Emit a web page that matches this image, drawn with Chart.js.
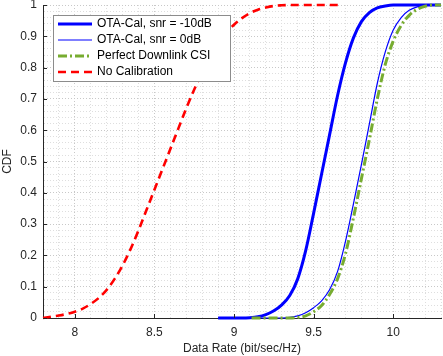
<!DOCTYPE html>
<html>
<head>
<meta charset="utf-8">
<script src="https://cdn.jsdelivr.net/npm/chart.js@4"></script>
<style>
  html, body { margin: 0; padding: 0; background: #fff; }
  #wrap { width: 443px; height: 356px; }
</style>
</head>
<body>
<div id="wrap"><canvas id="cdf"></canvas></div>
<script>
// values
var seriesNames = ["OTA-Cal, snr = -10dB", "OTA-Cal, snr = 0dB", "Perfect Downlink CSI", "No Calibration"];

var rateSnrM10 = [8.9, 9.05, 9.1, 9.15, 9.2, 9.25, 9.3, 9.35, 9.4, 9.45, 9.5, 9.55, 9.6, 9.65, 9.7, 9.75, 9.8, 9.85, 9.9, 9.95, 10.0, 10.3];
var cdfSnrM10  = [0, 0, 0.001, 0.004, 0.011, 0.023, 0.042, 0.072, 0.125, 0.215, 0.335, 0.46, 0.585, 0.71, 0.815, 0.895, 0.947, 0.976, 0.991, 0.997, 1, 1];

var rateSnr0 = [8.9, 9.3, 9.35, 9.4, 9.45, 9.5, 9.55, 9.6, 9.65, 9.7, 9.75, 9.8, 9.85, 9.9, 9.95, 10.0, 10.05, 10.1, 10.15, 10.2, 10.25, 10.3];
var cdfSnr0  = [0, 0, 0.002, 0.007, 0.017, 0.033, 0.055, 0.09, 0.148, 0.245, 0.365, 0.49, 0.62, 0.75, 0.85, 0.92, 0.96, 0.983, 0.994, 0.999, 1, 1];

var ratePerfect = [9.11, 9.35, 9.4, 9.45, 9.5, 9.55, 9.6, 9.65, 9.7, 9.75, 9.8, 9.85, 9.9, 9.95, 10.0, 10.05, 10.1, 10.15, 10.2, 10.25, 10.3];
var cdfPerfect  = [0, 0, 0.002, 0.007, 0.02, 0.04, 0.075, 0.125, 0.205, 0.32, 0.445, 0.57, 0.7, 0.81, 0.885, 0.935, 0.967, 0.986, 0.996, 1, 1];

var rateNoCal = [7.8, 7.85, 7.9, 7.95, 8.0, 8.05, 8.1, 8.15, 8.2, 8.25, 8.3, 8.35, 8.4, 8.45, 8.5, 8.55, 8.6, 8.65, 8.7, 8.75, 8.8, 8.85, 8.9, 8.95, 9.0, 9.05, 9.1, 9.15, 9.2, 9.25, 9.3, 9.35, 9.66];
var cdfNoCal  = [0, 0.004, 0.008, 0.013, 0.02, 0.03, 0.045, 0.064, 0.09, 0.125, 0.168, 0.22, 0.28, 0.345, 0.41, 0.475, 0.54, 0.605, 0.67, 0.73, 0.785, 0.835, 0.875, 0.91, 0.937, 0.958, 0.974, 0.985, 0.992, 0.997, 0.999, 1, 1];

var xMajor = [8, 8.5, 9, 9.5, 10];
var yMajor = [0, 0.1, 0.2, 0.3, 0.4, 0.5, 0.6, 0.7, 0.8, 0.9, 1];

function pts(xs, ys) {
    return xs.map(function (x, i) { return { x: x, y: ys[i] }; });
}
function isMajor(v, step) {
    var r = v / step;
    return Math.abs(r - Math.round(r)) < 1e-6;
}

var FONT = "'Liberation Sans', Arial, sans-serif";
var TXT = "#262626";

// legend box drawn inside the axes, like matlab's "northwest"
var insideLegend = {
    id: "insideLegend",
    afterDatasetsDraw: function (chart) {
        var ctx = chart.ctx, area = chart.chartArea;
        var x0 = area.left + 10, y0 = area.top + 10;
        var w = 177, rowH = 16, h = rowH * 4 + 2;
        ctx.save();
        ctx.fillStyle = "#fff";
        ctx.fillRect(x0, y0, w, h);
        ctx.strokeStyle = "#8c8c8c";
        ctx.lineWidth = 1;
        ctx.strokeRect(x0 + 0.5, y0 + 0.5, w, h);
        ctx.font = "12px " + FONT;
        ctx.textBaseline = "middle";
        chart.data.datasets.forEach(function (ds, i) {
            var yy = y0 + 9 + i * rowH;
            ctx.beginPath();
            ctx.strokeStyle = ds.borderColor;
            ctx.lineWidth = ds.borderWidth;
            ctx.setLineDash(ds.borderDash || []);
            ctx.moveTo(x0 + 5, yy);
            ctx.lineTo(x0 + 39, yy);
            ctx.stroke();
            ctx.setLineDash([]);
            ctx.fillStyle = "#000";
            ctx.fillText(ds.label, x0 + 44, yy);
        });
        ctx.restore();
    }
};

// matlab style inward tick marks
var inwardTicks = {
    id: "inwardTicks",
    afterDraw: function (chart) {
        var ctx = chart.ctx, area = chart.chartArea;
        var xs = chart.scales.x, ys = chart.scales.y;
        ctx.save();
        ctx.strokeStyle = TXT;
        ctx.lineWidth = 1;
        ctx.beginPath();
        xMajor.forEach(function (v) {
            var px = Math.round(xs.getPixelForValue(v)) + 0.5;
            ctx.moveTo(px, area.bottom);
            ctx.lineTo(px, area.bottom - 4);
        });
        yMajor.forEach(function (v) {
            var py = Math.round(ys.getPixelForValue(v)) + 0.5;
            ctx.moveTo(area.left, py);
            ctx.lineTo(area.left + 4, py);
        });
        ctx.stroke();
        ctx.restore();
    }
};

document.addEventListener("DOMContentLoaded", function () {
    var ctx = document.getElementById("cdf").getContext("2d");

    var data = {
        datasets: [
            {
                label: seriesNames[0],
                data: pts(rateSnrM10, cdfSnrM10),
                borderColor: "#0000ff",
                borderWidth: 3,
                order: 4
            },
            {
                label: seriesNames[1],
                data: pts(rateSnr0, cdfSnr0),
                borderColor: "#0000ff",
                borderWidth: 1.2,
                order: 3
            },
            {
                label: seriesNames[2],
                data: pts(ratePerfect, cdfPerfect),
                borderColor: "#77ac30",
                borderWidth: 3,
                borderDash: [9, 3, 2, 3],
                order: 2
            },
            {
                label: seriesNames[3],
                data: pts(rateNoCal, cdfNoCal),
                borderColor: "#ff0000",
                borderWidth: 2.6,
                borderDash: [8, 5],
                order: 1
            }
        ]
    };

    var options = {
        responsive: true,
        maintainAspectRatio: false,
        animation: false,
        layout: { padding: { left: 0, right: 2, top: 5, bottom: 0 } },
        elements: {
            point: { radius: 0 },
            line: { cubicInterpolationMode: "monotone", fill: false }
        },
        datasets: { line: { clip: 4 } },
        scales: {
            x: {
                type: "linear",
                min: 7.8,
                max: 10.3,
                ticks: {
                    stepSize: 0.1,
                    autoSkip: false,
                    maxRotation: 0,
                    padding: 7,
                    color: TXT,
                    font: { family: FONT, size: 12 },
                    callback: function (v) { return isMajor(v, 0.5) ? String(Math.round(v * 10) / 10) : ""; }
                },
                grid: {
                    drawTicks: false,
                    color: function (c) { return c.tick && isMajor(c.tick.value, 0.5) ? "#c8c8c8" : "#dedede"; }
                },
                border: { color: TXT, dash: [1, 2] },
                title: {
                    display: true,
                    text: "Data Rate (bit/sec/Hz)",
                    color: TXT,
                    font: { family: FONT, size: 12 },
                    padding: { top: 2, bottom: 0 }
                },
                afterFit: function (s) { s.height = 38; s.paddingLeft = 0; s.paddingRight = 0; }
            },
            y: {
                min: 0,
                max: 1,
                ticks: {
                    stepSize: 0.02,
                    autoSkip: false,
                    padding: 6,
                    color: TXT,
                    font: { family: FONT, size: 12 },
                    callback: function (v) { return isMajor(v, 0.1) ? String(Math.round(v * 10) / 10) : ""; }
                },
                grid: {
                    drawTicks: false,
                    color: function (c) { return c.tick && isMajor(c.tick.value, 0.1) ? "#c8c8c8" : "#dedede"; }
                },
                border: { color: TXT, dash: [1, 2] },
                title: {
                    display: true,
                    text: "CDF",
                    color: TXT,
                    font: { family: FONT, size: 12 },
                    padding: { top: 0, bottom: 2 }
                },
                afterFit: function (s) { s.width = 43; s.paddingTop = 0; s.paddingBottom = 0; }
            }
        },
        plugins: {
            legend: { display: false },
            tooltip: { enabled: false }
        }
    };

    new Chart(ctx, {
        type: "line",
        data: data,
        options: options,
        plugins: [insideLegend, inwardTicks]
    });
});
</script>
</body>
</html>
